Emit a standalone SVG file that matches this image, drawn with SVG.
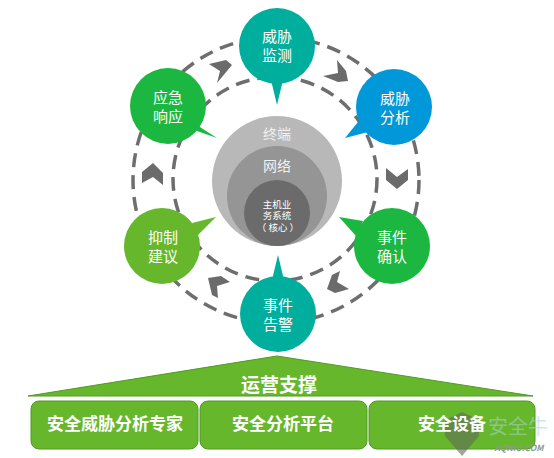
<svg xmlns="http://www.w3.org/2000/svg" width="554" height="458" viewBox="0 0 554 458">
<style>
text{font-family:"Noto Sans CJK SC","Noto Sans",sans-serif;fill:#fff;text-anchor:middle}
.n{font-size:15px}
.c{font-size:14px;fill:#f1f1f1}
.s{font-size:9.5px}
.ring{fill:none;stroke:#6e6e6e;stroke-width:3.5;stroke-dasharray:14 8}
.chev{fill:#6b6b6b}
.base{font-size:17px;font-weight:700}
.box{fill:#67b72c;stroke:#4f9a22;stroke-width:1}
</style>
<rect width="554" height="458" fill="#fff"/>
<g id="connectors">
<circle class="ring" cx="276" cy="180" r="143"/>
<circle class="ring" cx="275" cy="179" r="102"/>
<polygon class="chev" points="209,64 226,60 232,65 217,83 220,71"/>
<polygon class="chev" points="337,60 346,71 348,81 338,82 323,76 338,73"/>
<polygon class="chev" points="386,168 397,177 408,169 408,180 397,189 386,180"/>
<polygon class="chev" points="340,271 337,282 349,289 335,293 327,289 332,275"/>
<polygon class="chev" points="208,278 221,276 230,282 217,286 218,298 212,295"/>
<polygon class="chev" points="153,163 163,173 163,185 153,177 142,183 142,172"/>
</g>
<g id="core">
<circle cx="277" cy="181" r="65" fill="#b8b8b8"/>
<circle cx="277" cy="196" r="50" fill="#959595"/>
<circle cx="277" cy="213" r="33" fill="#6b6b6b"/>
<text class="c" x="277" y="139">终端</text>
<text class="c" x="277" y="171">网络</text>
<text class="s" x="277" y="207.5">主机业</text>
<text class="s" x="277" y="219">务系统</text>
<text class="s" x="278" y="231">（ 核心 ）</text>
</g>
<g id="node-monitor">
<circle cx="277" cy="46" r="38" fill="#00ae9d"/><polygon points="271,80 283,80 277,105" fill="#00ae9d"/>
<text class="n" x="277" y="42">威胁</text><text class="n" x="277" y="61">监测</text>
</g>
<g id="node-analysis">
<circle cx="394" cy="107" r="38" fill="#0098d8"/><polygon points="358,122 368,132 345,138" fill="#0098d8"/>
<text class="n" x="395" y="104">威胁</text><text class="n" x="395" y="123">分析</text>
</g>
<g id="node-confirm">
<circle cx="392" cy="246" r="38" fill="#1cb740"/><polygon points="339,217 363,221 356,236" fill="#1cb740"/>
<text class="n" x="392" y="243">事件</text><text class="n" x="392" y="262">确认</text>
</g>
<g id="node-alert">
<circle cx="278" cy="314" r="38" fill="#00ae9d"/><polygon points="272,280 284,280 278,255" fill="#00ae9d"/>
<text class="n" x="278" y="311">事件</text><text class="n" x="278" y="330">告警</text>
</g>
<g id="node-suggest">
<circle cx="162" cy="246" r="38" fill="#67b72c"/><polygon points="192,223 198,235 216,217" fill="#67b72c"/>
<text class="n" x="163" y="243">抑制</text><text class="n" x="163" y="262">建议</text>
</g>
<g id="node-respond">
<circle cx="168" cy="106" r="38" fill="#1cb740"/><polygon points="192,122 197,131 217,138" fill="#1cb740"/>
<text class="n" x="168" y="103">应急</text><text class="n" x="168" y="122">响应</text>
</g>
<g id="base-roof">
<polygon points="277,356 533,396 28,396" fill="#67b72c" stroke="#4f9a22" stroke-width="1"/>
<text x="279" y="392" style="font-size:19px;font-weight:700">运营支撑</text>
</g>
<g id="base-experts">
<rect class="box" x="31" y="401" width="167" height="48" rx="8"/>
<text class="base" x="115" y="430">安全威胁分析专家</text>
</g>
<g id="base-platform">
<rect class="box" x="200" y="401" width="167" height="48" rx="8"/>
<text class="base" x="283" y="430">安全分析平台</text>
</g>
<g id="base-devices">
<rect class="box" x="369" y="401" width="166" height="48" rx="8"/>
<path d="M445 420l17-8 17 8v16l-17 20-17-20z" fill="#5f6b58" opacity="0.6"/>
<text class="base" x="452" y="430">安全设备</text>
</g>
<g id="watermark">
<text x="518" y="434" style="font-size:20px;fill:#a9d3d6" opacity="0.55">安全牛</text>
<text x="519" y="451" style="font-size:8.5px;font-style:italic;font-weight:700;fill:#8d9a8a">AQNIU.COM</text>
</g>
</svg>
